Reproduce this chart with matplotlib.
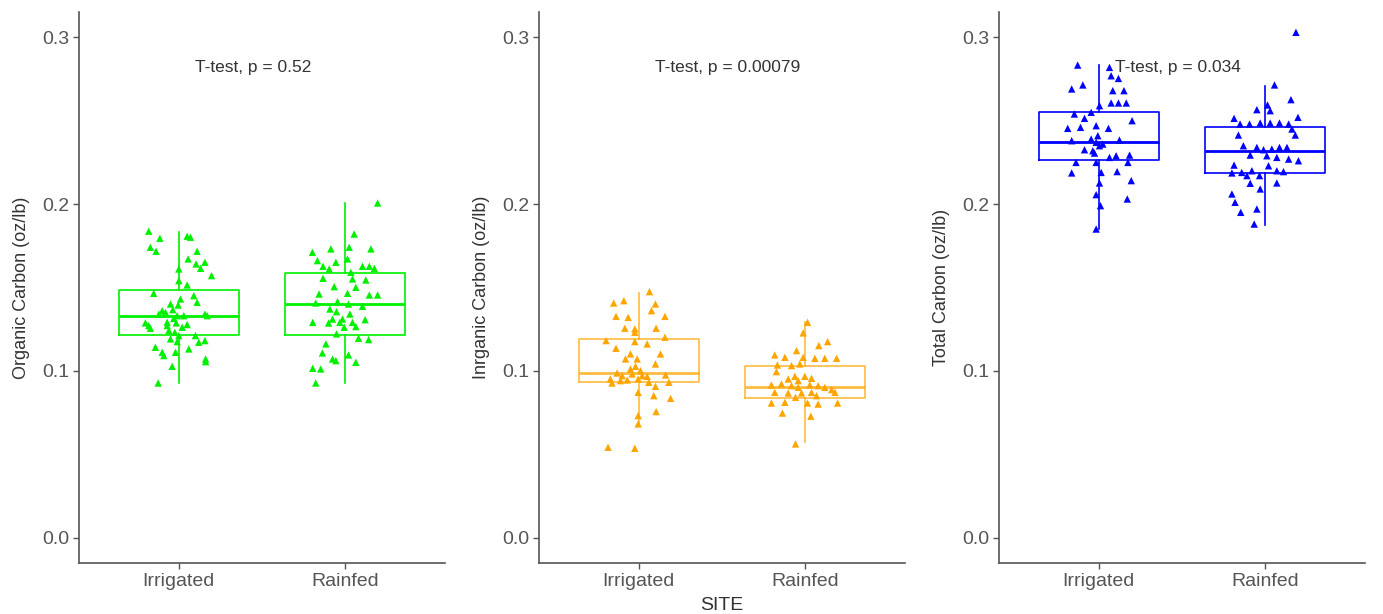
import matplotlib
matplotlib.use("Agg")
import matplotlib.pyplot as plt

plt.rcParams['font.family'] = ['Liberation Sans', 'DejaVu Sans']

sites = ["Irrigated", "Rainfed"]
panel_ylabels = ["Organic Carbon (oz/lb)", "Inrganic Carbon (oz/lb)", "Total Carbon (oz/lb)"]
panel_colors = ["#00F000", "#FFA500", "#0000FF"]
pvalue_labels = ["T-test, p = 0.52", "T-test, p = 0.00079", "T-test, p = 0.034"]
yticks = [0.0, 0.1, 0.2, 0.3]
ytick_labels = ["0.0", "0.1", "0.2", "0.3"]

# Box statistics: [whislo, q1, med, q3, whishi]
oc_irr_box = [0.0928, 0.1217, 0.1331, 0.1485, 0.1830]
oc_rain_box = [0.0928, 0.1217, 0.1403, 0.1587, 0.2006]
ic_irr_box = [0.0683, 0.0935, 0.0990, 0.1190, 0.1467]
ic_rain_box = [0.0575, 0.0836, 0.0902, 0.1032, 0.1295]
tc_irr_box = [0.1850, 0.2263, 0.2369, 0.2553, 0.2832]
tc_rain_box = [0.1874, 0.2184, 0.2315, 0.2463, 0.2705]

# Organic carbon points (values) and their jitter offsets
oc_irr = [0.1837, 0.1795, 0.1741, 0.1717, 0.1807, 0.1801, 0.1717, 0.1671, 0.1641, 0.1651,
          0.1615, 0.1571, 0.1611, 0.1541, 0.1515, 0.1465, 0.1431, 0.1451, 0.1411, 0.1395,
          0.1401, 0.1367, 0.1351, 0.1341, 0.1331, 0.1315, 0.1331, 0.1341, 0.1331, 0.1272,
          0.1256, 0.1272, 0.1288, 0.1278, 0.1242, 0.1232, 0.1212, 0.1176, 0.1212, 0.1172,
          0.1182, 0.1142, 0.1112, 0.1092, 0.1112, 0.1132, 0.1072, 0.1056, 0.1028, 0.0928,
          0.1292, 0.1192, 0.1262, 0.1361, 0.1288]
oc_irr_jit = [-0.181, -0.114, -0.171, -0.137, 0.050, 0.070, 0.110, 0.056, 0.104, 0.157,
              0.131, 0.197, 0.000, 0.000, 0.050, -0.151, 0.010, 0.090, 0.110, -0.004,
              -0.050, -0.036, -0.080, -0.120, -0.010, -0.030, 0.030, 0.157, 0.171, -0.181,
              -0.171, -0.070, -0.016, 0.050, -0.060, -0.024, 0.000, -0.010, 0.100, 0.120,
              0.157, -0.141, -0.100, -0.090, -0.020, 0.060, 0.161, 0.161, -0.040, -0.124,
              -0.070, -0.050, 0.020, -0.100, -0.201]
oc_rain = [0.2006, 0.1820, 0.1711, 0.1731, 0.1731, 0.1741, 0.1671, 0.1661, 0.1651, 0.1627,
           0.1627, 0.1627, 0.1615, 0.1591, 0.1555, 0.1551, 0.1545, 0.1505, 0.1501, 0.1461,
           0.1465, 0.1455, 0.1455, 0.1415, 0.1407, 0.1401, 0.1387, 0.1371, 0.1355, 0.1341,
           0.1311, 0.1291, 0.1287, 0.1291, 0.1307, 0.1266, 0.1262, 0.1222, 0.1196, 0.1188,
           0.1162, 0.1108, 0.1072, 0.1096, 0.1062, 0.1052, 0.1016, 0.1012, 0.0928, 0.1611,
           0.1291, 0.1311]
oc_rain_jit = [0.195, 0.054, -0.197, -0.086, 0.155, 0.024, 0.014, -0.167, -0.056, -0.133,
               0.104, 0.145, 0.175, 0.034, -0.133, 0.044, 0.124, -0.066, 0.064, -0.157,
               0.014, 0.145, 0.195, -0.046, -0.177, 0.020, 0.104, -0.092, -0.052, 0.028,
               -0.016, -0.195, -0.100, -0.032, 0.120, 0.064, -0.006, -0.052, 0.080, 0.141,
               -0.116, -0.137, -0.076, 0.020, -0.056, 0.064, -0.195, -0.147, -0.177, -0.096,
               0.044, -0.076]

# Inorganic carbon
ic_irr = [0.1475, 0.1407, 0.1421, 0.1401, 0.1361, 0.1327, 0.1321, 0.1327, 0.1256, 0.1252,
          0.1256, 0.1232, 0.1202, 0.1182, 0.1176, 0.1162, 0.1136, 0.1102, 0.1102, 0.1072,
          0.1072, 0.1042, 0.1028, 0.0988, 0.0972, 0.0982, 0.0972, 0.0968, 0.0976, 0.0952,
          0.0942, 0.0946, 0.0952, 0.0932, 0.0932, 0.0928, 0.0908, 0.0872, 0.0852, 0.0836,
          0.0757, 0.0733, 0.0683, 0.0543, 0.0537, 0.1012, 0.1002]
ic_irr_jit = [0.064, -0.151, -0.090, 0.100, 0.076, -0.137, -0.064, 0.157, -0.084, -0.024,
              0.104, -0.024, 0.157, -0.197, -0.024, 0.050, -0.137, -0.050, 0.130, -0.080,
              -0.010, 0.100, -0.020, -0.131, -0.100, -0.040, 0.020, 0.050, 0.161, -0.171,
              -0.110, -0.070, -0.004, 0.060, 0.181, -0.161, 0.100, -0.004, 0.090, 0.191,
              0.104, -0.004, -0.004, -0.185, -0.024, -0.050, 0.010]
ic_rain = [0.1291, 0.1228, 0.1176, 0.1152, 0.1122, 0.1096, 0.1082, 0.1082, 0.1076, 0.1076,
           0.1076, 0.1036, 0.1032, 0.1042, 0.0996, 0.0968, 0.0968, 0.0952, 0.0956, 0.0916,
           0.0922, 0.0912, 0.0912, 0.0902, 0.0916, 0.0902, 0.0872, 0.0868, 0.0868, 0.0872,
           0.0888, 0.0872, 0.0842, 0.0852, 0.0808, 0.0812, 0.0808, 0.0802, 0.0808, 0.0748,
           0.0729, 0.0563, 0.0942]
ic_rain_jit = [0.014, -0.012, 0.135, 0.082, -0.052, -0.183, -0.122, -0.012, 0.058, 0.118,
               0.189, -0.167, -0.082, -0.032, -0.173, -0.062, -0.002, -0.102, 0.038, -0.203,
               -0.143, -0.082, 0.078, -0.042, 0.028, 0.118, -0.183, -0.102, -0.022, 0.038,
               0.159, 0.179, -0.058, 0.068, -0.203, -0.122, 0.014, 0.078, 0.195, -0.137,
               0.034, -0.058, -0.042]

# Total carbon
tc_irr = [0.2832, 0.2818, 0.2768, 0.2752, 0.2713, 0.2689, 0.2679, 0.2679, 0.2605, 0.2605,
          0.2605, 0.2589, 0.2549, 0.2539, 0.2513, 0.2499, 0.2453, 0.2459, 0.2469, 0.2453,
          0.2379, 0.2389, 0.2369, 0.2349, 0.2359, 0.2383, 0.2325, 0.2305, 0.2279, 0.2289,
          0.2293, 0.2249, 0.2249, 0.2249, 0.2186, 0.2189, 0.2194, 0.2126, 0.2140, 0.2056,
          0.2030, 0.1990, 0.1850, 0.2319, 0.2409]
tc_irr_jit = [-0.127, 0.064, 0.074, 0.118, -0.096, -0.163, 0.084, 0.151, 0.074, 0.118,
              0.165, 0.004, -0.046, -0.147, -0.086, 0.200, -0.187, -0.110, -0.016, 0.058,
              -0.163, -0.046, -0.016, 0.004, 0.024, 0.124, -0.086, -0.026, 0.064, 0.104,
              0.185, -0.137, -0.016, 0.175, -0.163, 0.014, 0.110, 0.004, 0.195, -0.016,
              0.171, 0.010, -0.016, -0.036, -0.006]
tc_rain = [0.3028, 0.2713, 0.2625, 0.2565, 0.2593, 0.2559, 0.2519, 0.2513, 0.2479, 0.2479,
           0.2485, 0.2485, 0.2485, 0.2479, 0.2413, 0.2449, 0.2413, 0.2349, 0.2339, 0.2325,
           0.2329, 0.2339, 0.2339, 0.2293, 0.2289, 0.2279, 0.2269, 0.2259, 0.2229, 0.2233,
           0.2186, 0.2189, 0.2199, 0.2170, 0.2199, 0.2194, 0.2124, 0.2126, 0.2090, 0.2060,
           0.2010, 0.1970, 0.1950, 0.1880, 0.2170]
tc_rain_jit = [0.185, 0.056, 0.155, -0.050, 0.014, 0.030, 0.197, -0.187, -0.151, -0.094,
               -0.030, 0.030, 0.086, 0.141, -0.161, 0.161, 0.181, -0.131, -0.050, -0.010,
               0.040, 0.086, 0.131, -0.090, 0.010, 0.070, 0.141, 0.200, 0.020, -0.187,
               -0.200, -0.141, -0.080, -0.034, 0.070, 0.110, -0.090, 0.070, -0.030, -0.200,
               -0.181, -0.050, -0.147, -0.066, -0.110]

panels = [
    (oc_irr_box, oc_rain_box, oc_irr, oc_irr_jit, oc_rain, oc_rain_jit),
    (ic_irr_box, ic_rain_box, ic_irr, ic_irr_jit, ic_rain, ic_rain_jit),
    (tc_irr_box, tc_rain_box, tc_irr, tc_irr_jit, tc_rain, tc_rain_jit),
]

W, H = 1383, 614
fig = plt.figure(figsize=(W / 100, H / 100), dpi=100)
lefts = [79, 539, 999]
ax_w = 366
bottom_px, top_px = 563, 12
axis_color = "#555555"
text_color = "#333333"

for i, (bi, br, pi, ji, pr, jr) in enumerate(panels):
    ax = fig.add_axes([lefts[i] / W, 1 - bottom_px / H, ax_w / W, (bottom_px - top_px) / H])
    col = panel_colors[i]
    stats = []
    for b, lab in ((bi, sites[0]), (br, sites[1])):
        stats.append(dict(whislo=b[0], q1=b[1], med=b[2], q3=b[3], whishi=b[4],
                          fliers=[], label=lab))
    box_alpha = 0.75 if i == 1 else 1.0
    ax.bxp(stats, positions=[1, 2], widths=0.72, showcaps=False, showfliers=False,
           boxprops=dict(color=col, lw=1.2, alpha=box_alpha),
           whiskerprops=dict(color=col, lw=1.2, alpha=box_alpha),
           medianprops=dict(color=col, lw=2.0, alpha=box_alpha),
           zorder=2)
    for pos, vals, jit in ((1, pi, ji), (2, pr, jr)):
        xs = [pos + j for j in jit]
        ax.scatter(xs, vals, marker="^", s=28, color=col, edgecolors="none", zorder=3)
    ax.set_xlim(0.4, 2.6)
    ax.set_ylim(-0.015, 0.315)
    ax.set_xticks([1, 2])
    ax.set_xticklabels(sites, fontsize=14, color=text_color)
    ax.set_yticks(yticks)
    ax.set_yticklabels(ytick_labels, fontsize=14, color=text_color)
    ax.set_ylabel(panel_ylabels[i], fontsize=13, color=text_color, labelpad=9)
    for s in ("top", "right"):
        ax.spines[s].set_visible(False)
    for s in ("left", "bottom"):
        ax.spines[s].set_color(axis_color)
        ax.spines[s].set_linewidth(1.2)
    ax.tick_params(colors=axis_color, length=4, width=1.0, pad=3)
    ax.text(1.1, 0.282, pvalue_labels[i], fontsize=12.5, color=text_color,
            ha="left", va="center", zorder=4)
    if i == 1:
        ax.set_xlabel("SITE", fontsize=14, color=text_color, labelpad=5)

fig.savefig("out.png", dpi=100)
